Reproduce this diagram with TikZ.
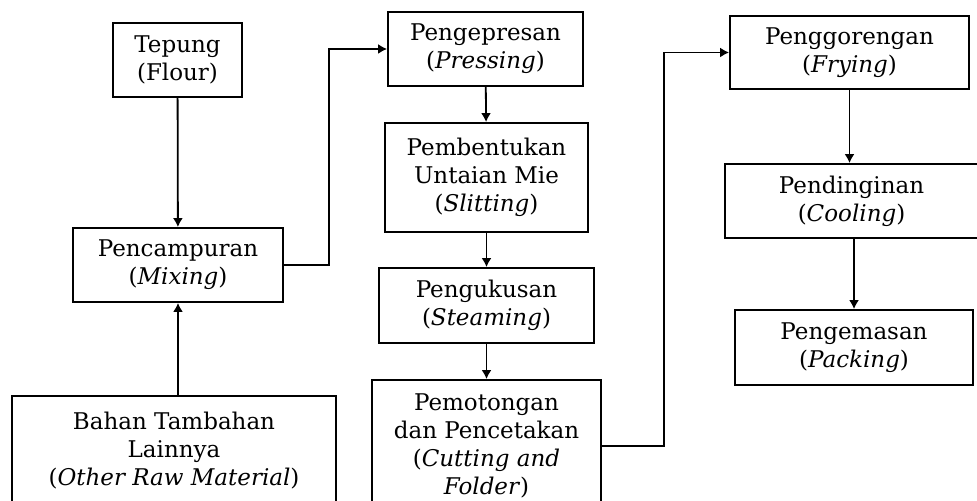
\documentclass[tikz,border=0pt]{standalone}
\usepackage{fontspec}
\setmainfont{DejaVu Serif}
\usepackage{tikz}
\usetikzlibrary{arrows.meta}

\tikzset{box/.style={draw, line width=0.9pt, align=center, inner sep=0pt,
  font=\fontsize{11.5}{14}\selectfont},
  flow/.style={line width=0.9pt, -{Latex[length=4.5pt,width=5pt]}}}

\begin{document}
\begin{tikzpicture}[x=0.5pt,y=-0.5pt]
\useasboundingbox (0,0) rectangle (977,501);
\clip (0,0) rectangle (977,501);
\node [box, minimum width=64.5pt, minimum height=37pt] (tepung) at (177.5,60) {Tepung\\(Flour)};
\node [box, minimum width=105pt, minimum height=37pt] (mixing) at (178,265) {Pencampuran\\(\textit{Mixing})};
\node [box, minimum width=162pt, minimum height=55pt] (bahan) at (174,451) {Bahan Tambahan\\Lainnya\\(\textit{Other Raw Material})};
\node [box, minimum width=97.5pt, minimum height=37pt] (pressing) at (485.5,49) {Pengepresan\\(\textit{Pressing})};
\node [box, minimum width=101.5pt, minimum height=54.5pt] (slitting) at (486.5,177.5) {Pembentukan\\Untaian Mie\\(\textit{Slitting})};
\node [box, minimum width=107.5pt, minimum height=37.5pt] (steaming) at (486.5,305.5) {Pengukusan\\(\textit{Steaming})};
\node [box, minimum width=114.5pt, minimum height=66pt] (cutting) at (486.5,446) {Pemotongan\\dan Pencetakan\\(\textit{Cutting and}\\\textit{Folder})};
\node [box, minimum width=119.5pt, minimum height=36.5pt] (frying) at (849.5,52.5) {Penggorengan\\(\textit{Frying})};
\node [box, minimum width=126.5pt, minimum height=37pt] (cooling) at (851.5,201) {Pendinginan\\(\textit{Cooling})};
\node [box, minimum width=119pt, minimum height=37.5pt] (packing) at (854,347.5) {Pengemasan\\(\textit{Packing})};
% alur proses
\draw[flow] (tepung) -- (mixing);
\draw[flow] (mixing |- bahan.north) -- (mixing.south);
\draw[flow] (mixing.east) -- ++(45,0) |- (pressing.west);
\draw[flow] (pressing) -- (slitting);
\draw[flow] (slitting) -- (steaming);
\draw[flow] (steaming) -- (cutting);
\draw[flow] (cutting.east) -- ++(62,0) |- (frying.west);
\draw[flow] (frying) -- (frying |- cooling.north);
\draw[flow] (cooling.south -| packing) -- (packing);
\end{tikzpicture}
\end{document}
